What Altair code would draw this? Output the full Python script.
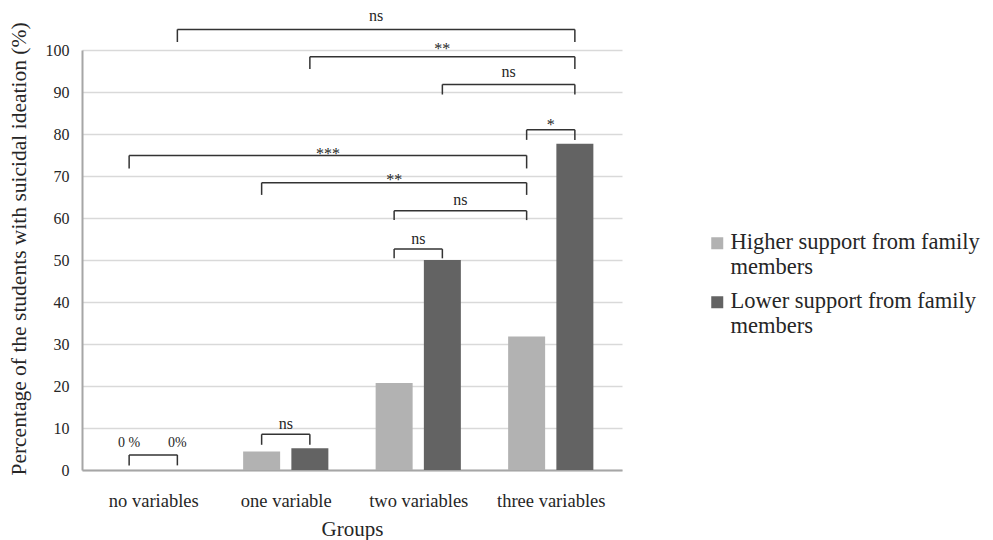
import altair as alt
import pandas as pd

# ---------------- data ----------------
groups = ["no variables", "one variable", "two variables", "three variables"]
series = ["Higher support from family members", "Lower support from family members"]
higher_support = [0.0, 4.4, 20.7, 31.8]
lower_support = [0.0, 5.2, 50.0, 77.7]
bar_colors = ["#b2b2b2", "#636363"]
y_ticks = [0, 10, 20, 30, 40, 50, 60, 70, 80, 90, 100]
zero_labels = ["0 %", "0%"]
zero_label_level = 6.4

# comparisons: (group A, series A, group B, series B, bracket level, tick end, label, label level)
comparisons = [
    (0, 1, 3, 1, 104.9, 101.9, "ns", 108.0),
    (1, 1, 3, 1, 98.4, 95.5, "**", 100.3),
    (2, 1, 3, 1, 91.8, 89.4, "ns", 94.7),
    (3, 0, 3, 1, 81.0, 78.6, "*", 82.2),
    (0, 0, 3, 0, 74.9, 71.8, "***", 75.3),
    (1, 0, 3, 0, 68.4, 65.5, "**", 69.1),
    (2, 0, 3, 0, 61.7, 59.5, "ns", 64.2),
    (2, 0, 2, 1, 52.6, 50.4, "ns", 55.0),
    (1, 0, 1, 1, 8.5, 6.0, "ns", 10.9),
    (0, 0, 0, 1, 3.6, 1.1, "", 0.0),
]

# ---------------- layout / style ----------------
FONT = "Liberation Serif"
TEXT = "#262626"
OFFSET = 0.182  # series offset within a group, in group units


def pos(g, s):
    return g + (OFFSET if s == 1 else -OFFSET)


bars = pd.DataFrame(
    [
        {"group": groups[g], "series": series[s], "pos": pos(g, s), "value": vals[g]}
        for s, vals in enumerate([higher_support, lower_support])
        for g in range(len(groups))
    ]
)

segs = []
labels = []
for ga, sa, gb, sb, level, end, lab, lab_level in comparisons:
    xa, xb = pos(ga, sa), pos(gb, sb)
    segs.append({"xa": xa, "xb": xa, "ya": end, "yb": level})
    segs.append({"xa": xa, "xb": xb, "ya": level, "yb": level})
    segs.append({"xa": xb, "xb": xb, "ya": end, "yb": level})
    if lab:
        labels.append({"xm": (xa + xb) / 2, "ym": lab_level, "label": lab})
segs = pd.DataFrame(segs)
labels = pd.DataFrame(labels)
zeros = pd.DataFrame(
    [{"xm": pos(0, s), "ym": zero_label_level, "label": zero_labels[s]} for s in range(2)]
)

label_expr = "[" + ",".join("'" + g + "'" for g in groups) + "][datum.value]"
x_scale = alt.Scale(domain=[-0.5, len(groups) - 0.5], nice=False, zero=False)
y_scale = alt.Scale(domain=[0, 100], nice=False)
x_axis = alt.Axis(
    values=list(range(len(groups))),
    labelExpr=label_expr,
    grid=False,
    ticks=False,
    tickSize=0,
    labelPadding=21,
    labelFontSize=18.5,
    titleFontSize=21,
    titlePadding=9,
    domainColor="#a6a6a6",
    domainWidth=2,
)
y_axis = alt.Axis(
    values=y_ticks,
    grid=True,
    gridColor="#d9d9d9",
    gridWidth=1.3,
    ticks=False,
    tickSize=0,
    labelPadding=13,
    labelFontSize=16,
    titleFontSize=21.5,
    titleX=-52,
    titleY=198.5,
    domainColor="#a6a6a6",
    domainWidth=2,
)
X_TITLE = "Groups"
Y_TITLE = "Percentage of the students with suicidal ideation (%)"

legend_expr = "split(replace(datum.label, ' members', '|members'), '|')"

bar_layer = alt.Chart(bars).mark_bar(size=37).encode(
    x=alt.X("pos:Q", scale=x_scale, axis=x_axis, title=X_TITLE),
    y=alt.Y("value:Q", scale=y_scale, axis=y_axis, title=Y_TITLE),
    color=alt.Color(
        "series:N",
        scale=alt.Scale(domain=series, range=bar_colors),
        legend=alt.Legend(
            title=None,
            orient="none",
            legendX=624,
            legendY=188,
            padding=0,
            labelFont=FONT,
            labelFontSize=22.5,
            labelColor=TEXT,
            labelLimit=400,
            labelOffset=2,
            labelBaseline="alphabetic",
            labelExpr=legend_expr,
            symbolType="M-1,-2H1V0H-1Z",
            symbolSize=144,
            symbolStrokeWidth=0,
            rowPadding=11,
        ),
    ),
)

rule_layer = alt.Chart(segs).mark_rule(color="#333333", strokeWidth=1.5).encode(
    x=alt.X("xa:Q", scale=x_scale, axis=x_axis, title=X_TITLE),
    x2="xb:Q",
    y=alt.Y("ya:Q", scale=y_scale, axis=y_axis, title=Y_TITLE),
    y2="yb:Q",
)

label_layer = alt.Chart(labels).mark_text(
    font=FONT, fontSize=16, color=TEXT, baseline="middle", align="center"
).encode(
    x=alt.X("xm:Q", scale=x_scale, axis=x_axis, title=X_TITLE),
    y=alt.Y("ym:Q", scale=y_scale, axis=y_axis, title=Y_TITLE),
    text="label:N",
)

zero_layer = alt.Chart(zeros).mark_text(
    font=FONT, fontSize=14, color=TEXT, baseline="middle", align="center"
).encode(
    x=alt.X("xm:Q", scale=x_scale, axis=x_axis, title=X_TITLE),
    y=alt.Y("ym:Q", scale=y_scale, axis=y_axis, title=Y_TITLE),
    text="label:N",
)

chart = (
    alt.layer(bar_layer, rule_layer, label_layer, zero_layer)
    .properties(
        width=540,
        height=420,
        autosize=alt.AutoSizeParams(type="none"),
        padding={"left": 74, "top": 42, "right": 363, "bottom": 70},
    )
    .configure(font=FONT)
    .configure_axis(
        labelFont=FONT,
        titleFont=FONT,
        labelColor=TEXT,
        titleColor=TEXT,
        titleFontWeight="normal",
    )
    .configure_view(strokeWidth=0)
)

chart.save("out.html", embed_options={"renderer": "svg", "actions": False})
